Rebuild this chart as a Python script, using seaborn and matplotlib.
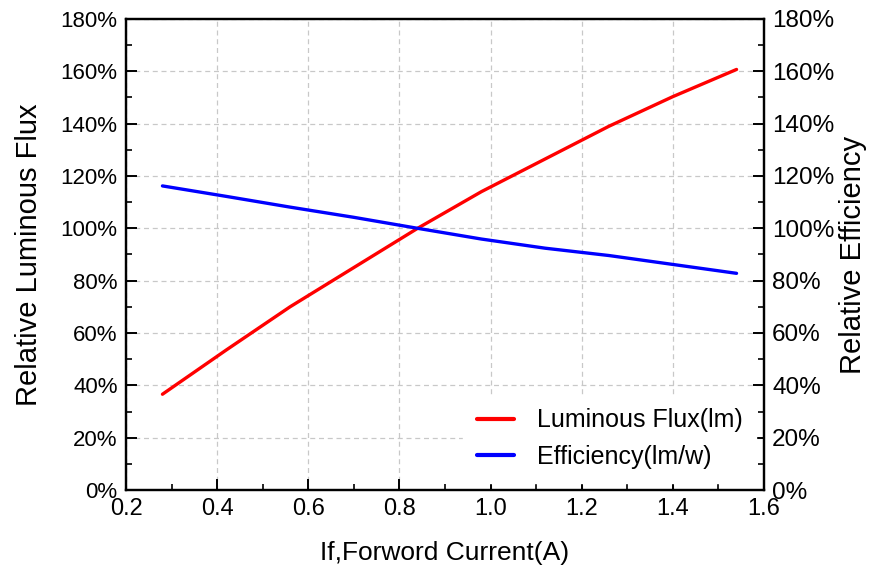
import numpy as np
import pandas as pd
import matplotlib
matplotlib.use("Agg")
import matplotlib.pyplot as plt
import seaborn as sns
from matplotlib.ticker import MultipleLocator, PercentFormatter

# data
current = [0.28, 0.42, 0.56, 0.70, 0.84, 0.98, 1.12, 1.26, 1.40, 1.54]
flux = [36.6, 53.5, 70.0, 85.0, 100.0, 114.0, 126.5, 139.0, 150.3, 160.7]
efficiency = [116.2, 112.2, 108.1, 104.2, 100.0, 95.9, 92.4, 89.6, 86.2, 82.8]

df = pd.DataFrame({'current': current, 'flux': flux, 'eff': efficiency})

sns.set_style('white')
plt.rcParams['font.family'] = ['Liberation Sans', 'DejaVu Sans']
plt.rcParams.update({'text.color': 'black', 'axes.labelcolor': 'black',
                     'xtick.color': 'black', 'ytick.color': 'black'})

fig = plt.figure(figsize=(8.72, 5.74), dpi=100)
ax = fig.add_axes([0.1445, 0.1463, 0.7315, 0.8207])
ax2 = ax.twinx()

sns.lineplot(data=df, x='current', y='flux', ax=ax, color='#ff0000', lw=2.4,
             label='Luminous Flux(lm)', legend=False)
sns.lineplot(data=df, x='current', y='eff', ax=ax2, color='#0000ff', lw=2.4,
             label='Efficiency(lm/w)', legend=False)

for a in (ax, ax2):
    a.set_xlim(0.2, 1.6)
    a.set_ylim(0, 180)
    a.yaxis.set_major_locator(MultipleLocator(20))
    a.yaxis.set_minor_locator(MultipleLocator(10))
    a.yaxis.set_major_formatter(PercentFormatter(decimals=0))
    for s in a.spines.values():
        s.set_linewidth(1.6)
        s.set_color('black')

ax.xaxis.set_major_locator(MultipleLocator(0.2))
ax.xaxis.set_minor_locator(MultipleLocator(0.1))
ax.xaxis.set_major_formatter(matplotlib.ticker.FormatStrFormatter('%.1f'))

ax.tick_params(which='major', direction='in', length=8, width=1.4,
               left=True, bottom=True, top=False, right=False, pad=6)
ax.tick_params(which='minor', direction='in', length=4, width=1.2,
               left=True, bottom=True, top=False, right=False)
ax.tick_params(axis='y', labelsize=16)
ax.tick_params(axis='x', labelsize=17)
ax2.tick_params(which='major', direction='in', length=8, width=1.4, labelsize=17.5,
                right=True, left=False, pad=6)
ax2.tick_params(which='minor', direction='in', length=4, width=1.2,
                right=True, left=False)

ax.grid(True, which='major', ls=(0, (4, 3)), color='#c8c8c8', lw=0.9)
ax.set_axisbelow(True)

ax.set_xlabel('If,Forword Current(A)', fontsize=19, labelpad=15)
ax.set_ylabel('Relative Luminous Flux', fontsize=21, labelpad=13)
ax2.set_ylabel('Relative Efficiency', fontsize=21, labelpad=3)

h1, l1 = ax.get_legend_handles_labels()
h2, l2 = ax2.get_legend_handles_labels()
leg = ax2.legend(h1 + h2, l1 + l2, loc='lower right', bbox_to_anchor=(1.0, 0.0),
                 fontsize=18, frameon=True, fancybox=False, edgecolor='white',
                 facecolor='white', framealpha=1, handlelength=1.5,
                 handletextpad=0.9, borderpad=0.55, labelspacing=0.5,
                 borderaxespad=0.3)
for line in leg.get_lines():
    line.set_linewidth(3)

fig.savefig('out.png', dpi=100)
